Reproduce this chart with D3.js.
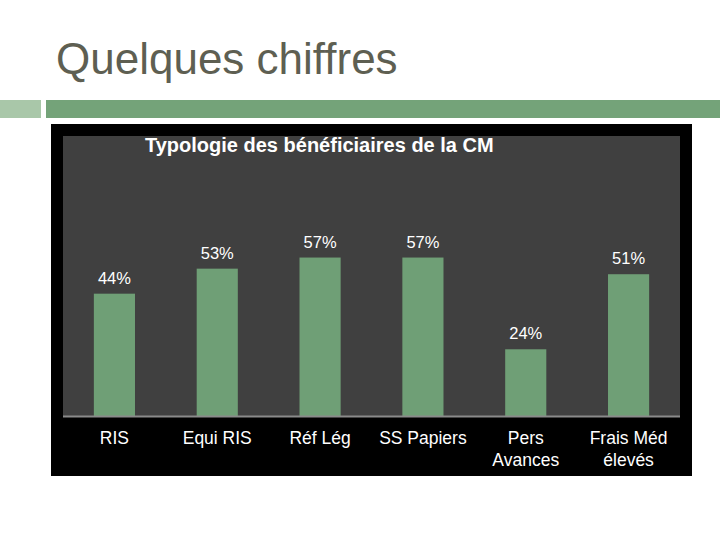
<!DOCTYPE html>
<html>
<head>
<meta charset="utf-8">
<script src="https://cdn.jsdelivr.net/npm/d3@7"></script>
<style>
  body { margin: 0; background: #fff; }
</style>
</head>
<body>
<div id="chart"></div>
<script>
const categories = ["RIS", "Equi RIS", "Réf Lég", "SS Papiers", "Pers Avances", "Frais Méd élevés"];
const catLines = [["RIS"], ["Equi RIS"], ["Réf Lég"], ["SS Papiers"], ["Pers", "Avances"], ["Frais Méd", "élevés"]];
const values = [44, 53, 57, 57, 24, 51];
const labels = ["44%", "53%", "57%", "57%", "24%", "51%"];

const W = 720, H = 540;
const svg = d3.select('#chart')
    .append('svg')
    .attr('width', W)
    .attr('height', H);

// slide title
svg.append('text')
    .attr('x', 56)
    .attr('y', 74)
    .text("Quelques chiffres")
    .attr('font-family', 'Liberation Sans, Arial, sans-serif')
    .attr('font-size', '44px')
    .attr('fill', '#5e5f52');

// decorative bars under title
svg.append('rect').attr('x', 0).attr('y', 100).attr('width', 41).attr('height', 18).attr('fill', '#a9c7a9');
svg.append('rect').attr('x', 46).attr('y', 100).attr('width', W - 46).attr('height', 18).attr('fill', '#74a379');

// chart frame
svg.append('rect').attr('x', 51).attr('y', 124).attr('width', 641).attr('height', 352).attr('fill', '#000');

const plot = { left: 63, right: 680, top: 136, bottom: 416 };
svg.append('rect')
    .attr('x', plot.left).attr('y', plot.top)
    .attr('width', plot.right - plot.left).attr('height', plot.bottom - plot.top)
    .attr('fill', '#404040');

const x = d3.scaleBand()
    .domain(categories)
    .range([plot.left, plot.right])
    .paddingInner(0.6)
    .paddingOuter(0.3);

const y = d3.scaleLinear()
    .domain([0, 100])
    .range([plot.bottom, plot.bottom - 278]);

svg.selectAll('rect.bar')
    .data(values)
    .join('rect')
    .attr('class', 'bar')
    .attr('x', (d, i) => x(categories[i]))
    .attr('y', d => y(d))
    .attr('width', x.bandwidth())
    .attr('height', d => y(0) - y(d))
    .attr('fill', '#6f9f76');

// baseline
svg.append('line')
    .attr('x1', plot.left).attr('x2', plot.right)
    .attr('y1', plot.bottom + 0.5).attr('y2', plot.bottom + 0.5)
    .attr('stroke', '#8a8a8a').attr('stroke-width', 2);

// value labels
svg.selectAll('text.val')
    .data(values)
    .join('text')
    .attr('class', 'val')
    .attr('x', (d, i) => x(categories[i]) + x.bandwidth() / 2)
    .attr('y', d => y(d) - 10)
    .attr('text-anchor', 'middle')
    .text((d, i) => labels[i])
    .attr('font-family', 'Liberation Sans, Arial, sans-serif')
    .attr('font-size', '16.5px')
    .attr('fill', '#fff');

// category labels
const cat = svg.selectAll('text.cat')
    .data(catLines)
    .join('text')
    .attr('class', 'cat')
    .attr('x', (d, i) => x(categories[i]) + x.bandwidth() / 2)
    .attr('y', 444)
    .attr('text-anchor', 'middle')
    .attr('font-family', 'Liberation Sans, Arial, sans-serif')
    .attr('font-size', '17.5px')
    .attr('fill', '#fff');
cat.selectAll('tspan')
    .data(d => d)
    .join('tspan')
    .attr('x', function () { return d3.select(this.parentNode).attr('x'); })
    .attr('dy', (d, i) => i === 0 ? 0 : 22)
    .text(d => d);

// chart title
svg.append('text')
    .attr('x', 145)
    .attr('y', 152)
    .text("Typologie des bénéficiaires de la CM")
    .attr('font-family', 'Liberation Sans, Arial, sans-serif')
    .attr('font-weight', 'bold')
    .attr('font-size', '20px')
    .attr('fill', '#fff');
</script>
</body>
</html>
